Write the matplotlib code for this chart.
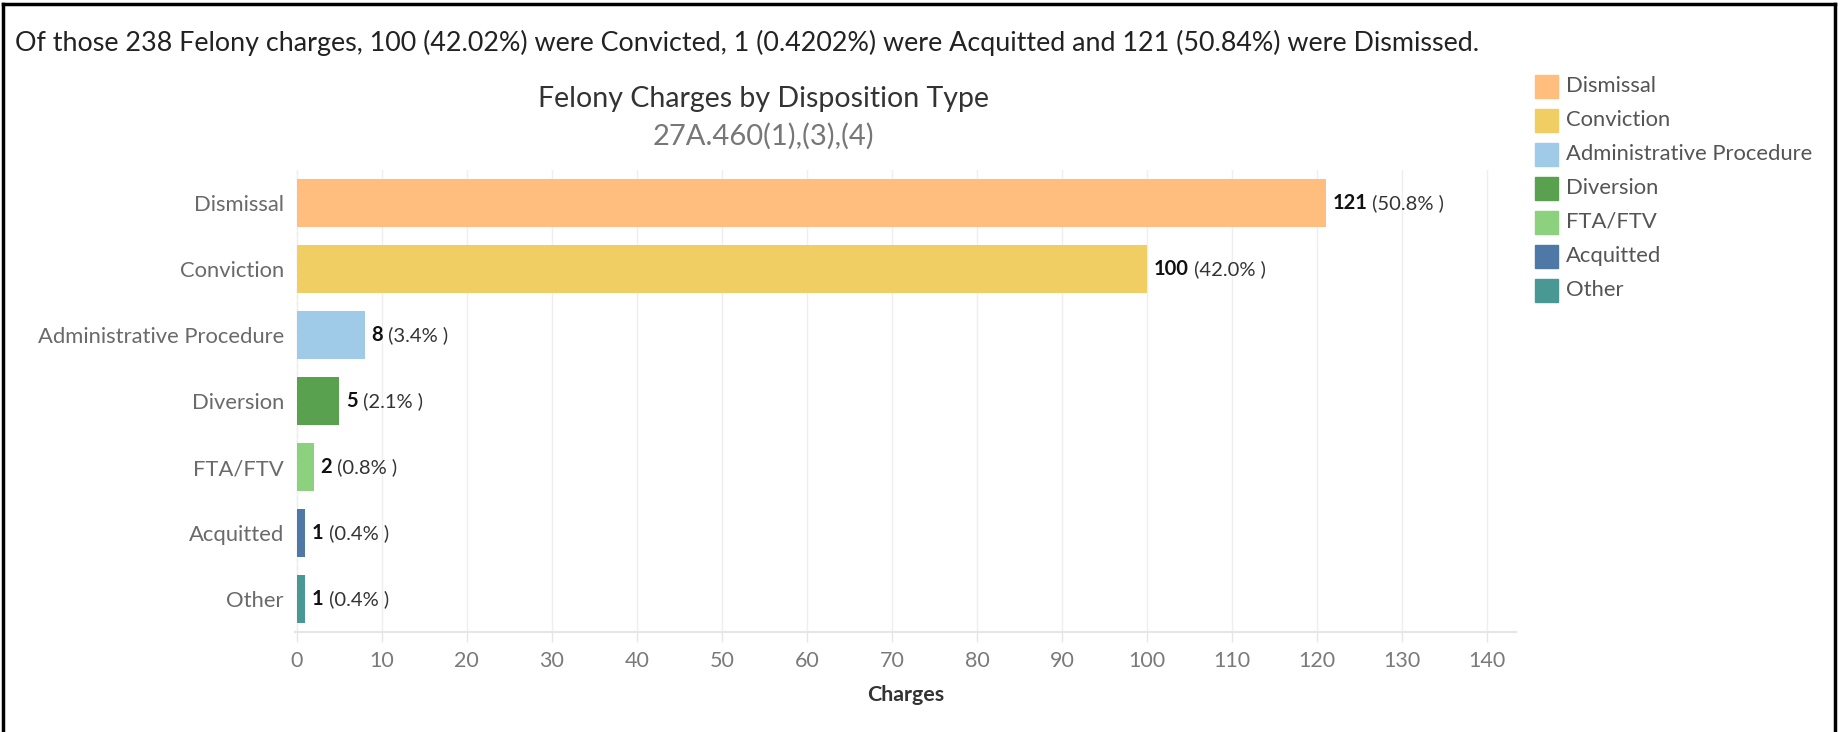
import matplotlib.pyplot as plt
from matplotlib.patches import Rectangle

categories = ["Dismissal", "Conviction", "Administrative Procedure", "Diversion",
              "FTA/FTV", "Acquitted", "Other"]
charges = [121, 100, 8, 5, 2, 1, 1]
percents = ["50.8%", "42.0%", "3.4%", "2.1%", "0.8%", "0.4%", "0.4%"]
colors = ["#FFBE7D", "#F1CE63", "#A0CBE8", "#59A14F", "#8CD17D", "#4E79A7", "#499894"]
xticks = list(range(0, 141, 10))

headline = ("Of those 238 Felony charges, 100 (42.02%) were Convicted, 1 (0.4202%) "
            "were Acquitted and 121 (50.84%) were Dismissed.")
title = "Felony Charges by Disposition Type"
subtitle = "27A.460(1),(3),(4)"

plt.rcParams['font.family'] = ['Lato', 'DejaVu Sans']

W, H = 1841, 732
fig = plt.figure(figsize=(W / 100, H / 100), dpi=100)
ax = fig.add_axes([295 / W, 1 - 632 / H, (1516 - 295) / W, (632 - 170) / H])

ypos = list(range(len(categories)))
ax.barh(ypos, charges, height=0.73, color=colors, zorder=2)
ax.set_ylim(len(categories) - 0.5, -0.5)
ax.set_xlim(-0.2, 143.4)

for y, v, p in zip(ypos, charges, percents):
    t = ax.annotate(str(v), (v, y), xytext=(5, 0), textcoords="offset points",
                    va="center", ha="left", fontsize=14.5, fontweight="bold", color="#111111")
    ax.annotate(" (" + p + " )", (1, 0.5), xycoords=t, va="center", ha="left",
                fontsize=14.5, color="#333333")

ax.set_yticks(ypos)
ax.set_yticklabels(categories, fontsize=15.8, color="#6a6a6a")
ax.tick_params(axis="y", length=0, pad=8)
ax.set_xticks(xticks)
ax.tick_params(axis="x", colors="#e6e6e6", length=7, width=1, labelsize=15.5,
               labelcolor="#7a7a7a", pad=7)
ax.grid(axis="x", color="#efefef", linewidth=1, zorder=0)
for s in ["top", "right", "left"]:
    ax.spines[s].set_visible(False)
ax.spines["bottom"].set_color("#e6e6e6")
ax.spines["bottom"].set_linewidth(1.5)
ax.axvline(0, color="#e8e8e8", linewidth=1, linestyle=(0, (3, 2)), zorder=1)
ax.set_xlabel("Charges", fontsize=15.4, color="#333333", fontweight="bold", labelpad=10)

fig.text(15 / W, 1 - 43 / H, headline, fontsize=19.4, color="#222222", va="center", ha="left")
fig.text(763 / W, 1 - 99 / H, title, fontsize=20.5, color="#333333", va="center", ha="center")
fig.text(763 / W, 1 - 136 / H, subtitle, fontsize=21, color="#777777", va="center", ha="center")

# legend drawn by hand as in the dashboard
for i, (c, lab) in enumerate(zip(colors, categories)):
    yc = 86 + i * 34
    fig.patches.append(Rectangle((1535 / W, 1 - (yc + 11.5) / H), 23 / W, 23 / H,
                                 transform=fig.transFigure, color=c))
    fig.text(1566 / W, 1 - yc / H, lab, fontsize=15.8, color="#555555", va="center", ha="left")

# outer frame
for x0, y0, x1, y1 in [(3, 4, 1835, 4), (3, 4, 3, 732), (1835, 4, 1835, 732)]:
    fig.add_artist(plt.Line2D([x0 / W, x1 / W], [1 - y0 / H, 1 - y1 / H],
                              transform=fig.transFigure, color="black", linewidth=2.5))

fig.savefig("out.png", dpi=100)
